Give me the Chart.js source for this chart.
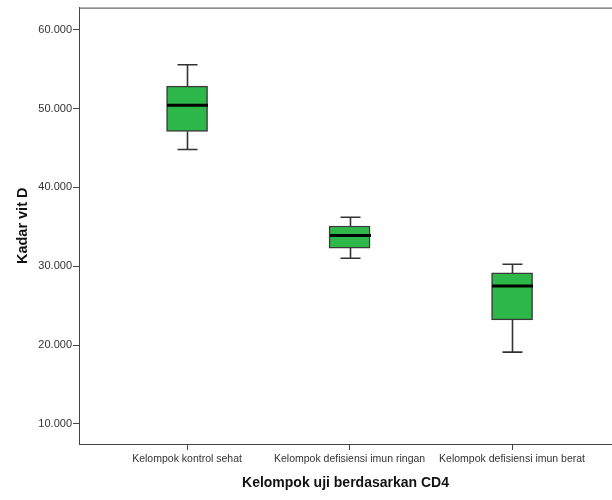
<!DOCTYPE html>
<html>
<head>
<meta charset="utf-8">
<script src="https://cdn.jsdelivr.net/npm/chart.js@4"></script>
<style>
  body { margin: 0; background: #fff; }
  #wrap { width: 612px; height: 500px; }
</style>
</head>
<body>
<div id="wrap"><canvas id="grafico-box" width="612" height="500"></canvas></div>
<script>
// Datos del boxplot
const kelompok = ['Kelompok kontrol sehat', 'Kelompok defisiensi imun ringan', 'Kelompok defisiensi imun berat'];
const whiskerMin = [44.8, 31.0, 19.1];
const kuartil1 = [47.1, 32.3, 23.2];
const mediana = [50.4, 33.9, 27.5];
const kuartil3 = [52.85, 35.1, 29.15];
const whiskerMax = [55.55, 36.2, 30.25];
const yTicks = [10, 20, 30, 40, 50, 60];

const fuente = "Arial, 'Liberation Sans', sans-serif";

// Plugin para bigotes, medianas y marco superior
const bigotesPlugin = {
    id: 'bigotes',
    afterDatasetsDraw(chart) {
        const ctx = chart.ctx;
        const x = chart.scales.x;
        const y = chart.scales.y;
        const area = chart.chartArea;
        ctx.save();

        kelompok.forEach((k, i) => {
            const cx = Math.round(x.getPixelForValue(i + 1)) + 0.5;
            const yMin = y.getPixelForValue(whiskerMin[i]);
            const yQ1 = y.getPixelForValue(kuartil1[i]);
            const yQ3 = y.getPixelForValue(kuartil3[i]);
            const yMax = y.getPixelForValue(whiskerMax[i]);
            const yMed = y.getPixelForValue(mediana[i]);

            ctx.strokeStyle = '#333';
            ctx.lineWidth = 1.6;
            ctx.beginPath();
            ctx.moveTo(cx, yQ3); ctx.lineTo(cx, yMax);
            ctx.moveTo(cx - 10, yMax); ctx.lineTo(cx + 10, yMax);
            ctx.moveTo(cx, yQ1); ctx.lineTo(cx, yMin);
            ctx.moveTo(cx - 10, yMin); ctx.lineTo(cx + 10, yMin);
            ctx.stroke();

            ctx.strokeStyle = '#000';
            ctx.lineWidth = 3;
            ctx.beginPath();
            ctx.moveTo(cx - 20.5, yMed); ctx.lineTo(cx + 20.5, yMed);
            ctx.stroke();
        });

        // marco superior
        ctx.strokeStyle = '#666';
        ctx.lineWidth = 1.2;
        ctx.beginPath();
        ctx.moveTo(area.left, area.top + 0.5);
        ctx.lineTo(area.right, area.top + 0.5);
        ctx.stroke();
        ctx.restore();
    }
};

new Chart(document.getElementById('grafico-box'), {
    type: 'bar',
    data: {
        datasets: [{
            label: 'Kadar vit D',
            data: kelompok.map((k, i) => ({ x: i + 1, y: [kuartil1[i], kuartil3[i]] })),
            backgroundColor: '#2fb84a',
            borderColor: '#3a3a3a',
            borderWidth: 1.5,
            borderSkipped: false,
            barThickness: 41
        }]
    },
    options: {
        responsive: false,
        animation: false,
        layout: { padding: { top: 7, right: 0, bottom: 0, left: 0 } },
        plugins: {
            legend: { display: false },
            tooltip: { enabled: false }
        },
        scales: {
            x: {
                type: 'linear',
                offset: false,
                min: 0.335,
                max: 3.615,
                afterBuildTicks: scale => { scale.ticks = kelompok.map((k, i) => ({ value: i + 1 })); },
                afterFit: scale => { scale.height = 56; },
                grid: { offset: false, drawOnChartArea: false, tickLength: 6, color: '#444', tickColor: '#444' },
                border: { color: '#444', width: 1 },
                ticks: {
                    autoSkip: false,
                    maxRotation: 0,
                    padding: 3,
                    color: '#333',
                    font: { family: fuente, size: 10.5 },
                    callback: value => kelompok[value - 1]
                },
                title: {
                    display: true,
                    text: 'Kelompok uji berdasarkan CD4',
                    color: '#111',
                    font: { family: fuente, size: 14, weight: 'bold' },
                    padding: { top: 8, bottom: 8 }
                }
            },
            y: {
                min: 7.45,
                max: 62.8,
                afterBuildTicks: scale => { scale.ticks = yTicks.map(v => ({ value: v })); },
                afterFit: scale => { scale.width = 79; },
                grid: { drawOnChartArea: false, tickLength: 6, color: '#444', tickColor: '#444' },
                border: { color: '#444', width: 1 },
                ticks: {
                    padding: 1,
                    color: '#333',
                    font: { family: fuente, size: 11 },
                    callback: value => value.toFixed(3)
                },
                title: {
                    display: true,
                    text: 'Kadar vit D',
                    color: '#111',
                    font: { family: fuente, size: 14.5, weight: 'bold' },
                    padding: { top: 14, bottom: 12 }
                }
            }
        }
    },
    plugins: [bigotesPlugin]
});
</script>
</body>
</html>
